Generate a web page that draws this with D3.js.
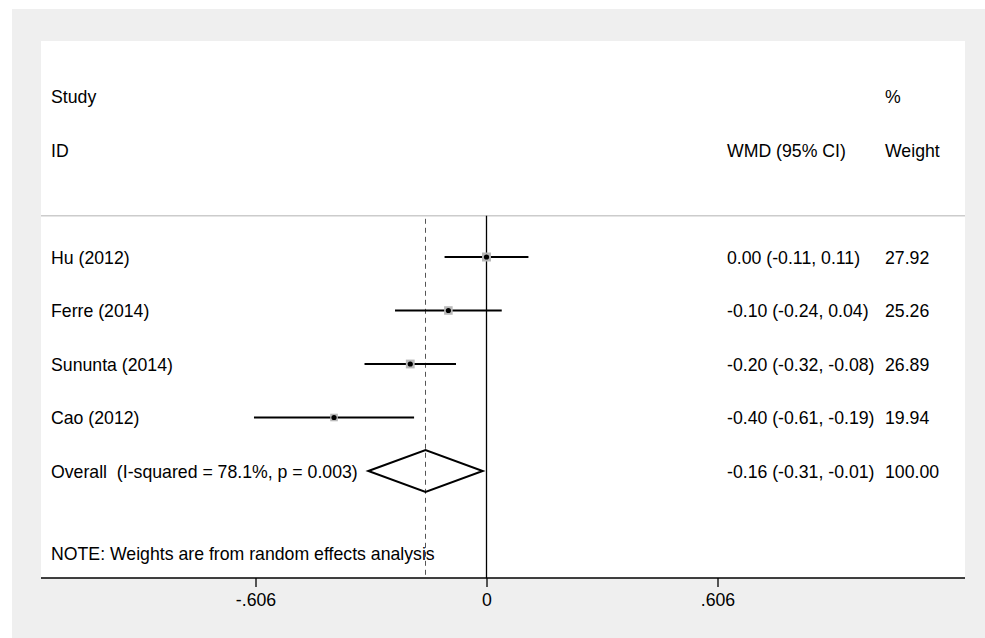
<!DOCTYPE html>
<html>
<head>
<meta charset="utf-8">
<title>Forest plot</title>
<script src="https://d3js.org/d3.v7.min.js"></script>
<style>
  body { margin: 0; background: #fff; }
  text { font-family: "Liberation Sans", Arial, sans-serif; font-size: 17.7px; fill: #000; white-space: pre; }
</style>
</head>
<body>
<div id="chart"></div>
<script>

// study level data
const studies = ["Hu (2012)", "Ferre (2014)", "Sununta (2014)", "Cao (2012)"];
const wmd = [0.00, -0.10, -0.20, -0.40];
const lower = [-0.11, -0.24, -0.32, -0.61];
const upper = [0.11, 0.04, -0.08, -0.19];
const weights = [27.92, 25.26, 26.89, 19.94];

// pooled estimate
const overallLabel = "Overall  (I-squared = 78.1%, p = 0.003)";
const overallEst = -0.16;
const overallLower = -0.31;
const overallUpper = -0.01;
const overallWeight = 100.00;

const xTicks = [-0.606, 0, 0.606];
const xTickLabels = ["-.606", "0", ".606"];
const note = "NOTE: Weights are from random effects analysis";

const W = 985, H = 638;
const plot = {left: 41, right: 965, top: 41, bottom: 578};

const svg = d3.select("#chart").append("svg")
    .attr("width", W)
    .attr("height", H);

// backgrounds
svg.append("rect").attr("x", 12).attr("y", 9).attr("width", W - 12).attr("height", H - 9)
    .attr("fill", "#efefef");
svg.append("rect").attr("x", plot.left).attr("y", plot.top)
    .attr("width", plot.right - plot.left).attr("height", plot.bottom - plot.top)
    .attr("fill", "#fff");

const x = d3.scaleLinear().domain([-0.606, 0.606]).range([255.5, 717.5]);
// row index -> vertical centre
const y = d3.scaleLinear().domain([0, 1]).range([257, 310.5]);

const colStudy = 51, colEst = 727, colWt = 885;
const base = 6.5;

function fmt(v) { return d3.format(".2f")(v).replace("−", "-"); }

// headers
svg.append("text").attr("x", colStudy).attr("y", y(-3) + base).text("Study");
svg.append("text").attr("x", colStudy).attr("y", y(-2) + base).text("ID");
svg.append("text").attr("x", colWt).attr("y", y(-3) + base).text("%");
svg.append("text").attr("x", colEst).attr("y", y(-2) + base).text("WMD (95% CI)");
svg.append("text").attr("x", colWt).attr("y", y(-2) + base).text("Weight");

// separator
const ySep = y(-0.77);
svg.append("line").attr("x1", plot.left).attr("x2", plot.right)
    .attr("y1", ySep).attr("y2", ySep)
    .attr("stroke", "#cccccc").attr("stroke-width", 1.5);

// no effect line and overall dashed line
svg.append("line").attr("x1", x(0)).attr("x2", x(0))
    .attr("y1", ySep).attr("y2", plot.bottom)
    .attr("stroke", "#000").attr("stroke-width", 1.3);
svg.append("line").attr("x1", x(overallEst)).attr("x2", x(overallEst))
    .attr("y1", ySep + 3).attr("y2", plot.bottom)
    .attr("stroke", "#555").attr("stroke-width", 1)
    .attr("stroke-dasharray", "5,4");

const rows = studies.map((s, i) => ({
    name: s, est: wmd[i], lo: lower[i], hi: upper[i], wt: weights[i], i: i
}));

const g = svg.append("g");

g.selectAll("line.ci").data(rows).enter().append("line")
    .attr("class", "ci")
    .attr("x1", d => x(d.lo)).attr("x2", d => x(d.hi))
    .attr("y1", d => y(d.i)).attr("y2", d => y(d.i))
    .attr("stroke", "#000").attr("stroke-width", 2);

g.selectAll("rect.box").data(rows).enter().append("rect")
    .attr("class", "box")
    .attr("x", d => x(d.est) - Math.sqrt(d.wt) * 0.85)
    .attr("y", d => y(d.i) - Math.sqrt(d.wt) * 0.85)
    .attr("width", d => Math.sqrt(d.wt) * 1.7)
    .attr("height", d => Math.sqrt(d.wt) * 1.7)
    .attr("fill", "#b8b8b8");

g.selectAll("circle.pt").data(rows).enter().append("circle")
    .attr("class", "pt")
    .attr("cx", d => x(d.est)).attr("cy", d => y(d.i))
    .attr("r", 2.6).attr("fill", "#000");

g.selectAll("text.name").data(rows).enter().append("text")
    .attr("class", "name")
    .attr("x", colStudy).attr("y", d => y(d.i) + base)
    .text(d => d.name);

g.selectAll("text.est").data(rows).enter().append("text")
    .attr("class", "est")
    .attr("x", colEst).attr("y", d => y(d.i) + base)
    .text(d => fmt(d.est) + " (" + fmt(d.lo) + ", " + fmt(d.hi) + ")");

g.selectAll("text.wt").data(rows).enter().append("text")
    .attr("class", "wt")
    .attr("x", colWt).attr("y", d => y(d.i) + base)
    .text(d => fmt(d.wt));

// overall diamond
const yo = y(4);
const dh = 21;
svg.append("path")
    .attr("d", "M" + x(overallLower) + "," + yo +
        "L" + x(overallEst) + "," + (yo - dh) +
        "L" + x(overallUpper) + "," + yo +
        "L" + x(overallEst) + "," + (yo + dh) + "Z")
    .attr("fill", "none").attr("stroke", "#000").attr("stroke-width", 2);

svg.append("text").attr("x", colStudy).attr("y", yo + base).text(overallLabel);
svg.append("text").attr("x", colEst).attr("y", yo + base)
    .text(fmt(overallEst) + " (" + fmt(overallLower) + ", " + fmt(overallUpper) + ")");
svg.append("text").attr("x", colWt).attr("y", yo + base).text(fmt(overallWeight));

svg.append("text").attr("x", colStudy).attr("y", y(5.55) + base).text(note);

// x axis
const axis = svg.append("g")
    .attr("transform", "translate(0," + plot.bottom + ")")
    .call(d3.axisBottom(x).tickValues(xTicks)
        .tickFormat((d, i) => xTickLabels[i])
        .tickSize(9).tickSizeOuter(0).tickPadding(6));
axis.select(".domain").remove();
axis.selectAll(".tick line").attr("stroke", "#000").attr("stroke-width", 1.3);
axis.selectAll(".tick text").attr("font-size", null).attr("font-family", null);
axis.append("line").attr("x1", plot.left).attr("x2", plot.right)
    .attr("y1", 0).attr("y2", 0)
    .attr("stroke", "#000").attr("stroke-width", 1.5);

</script>
</body>
</html>
